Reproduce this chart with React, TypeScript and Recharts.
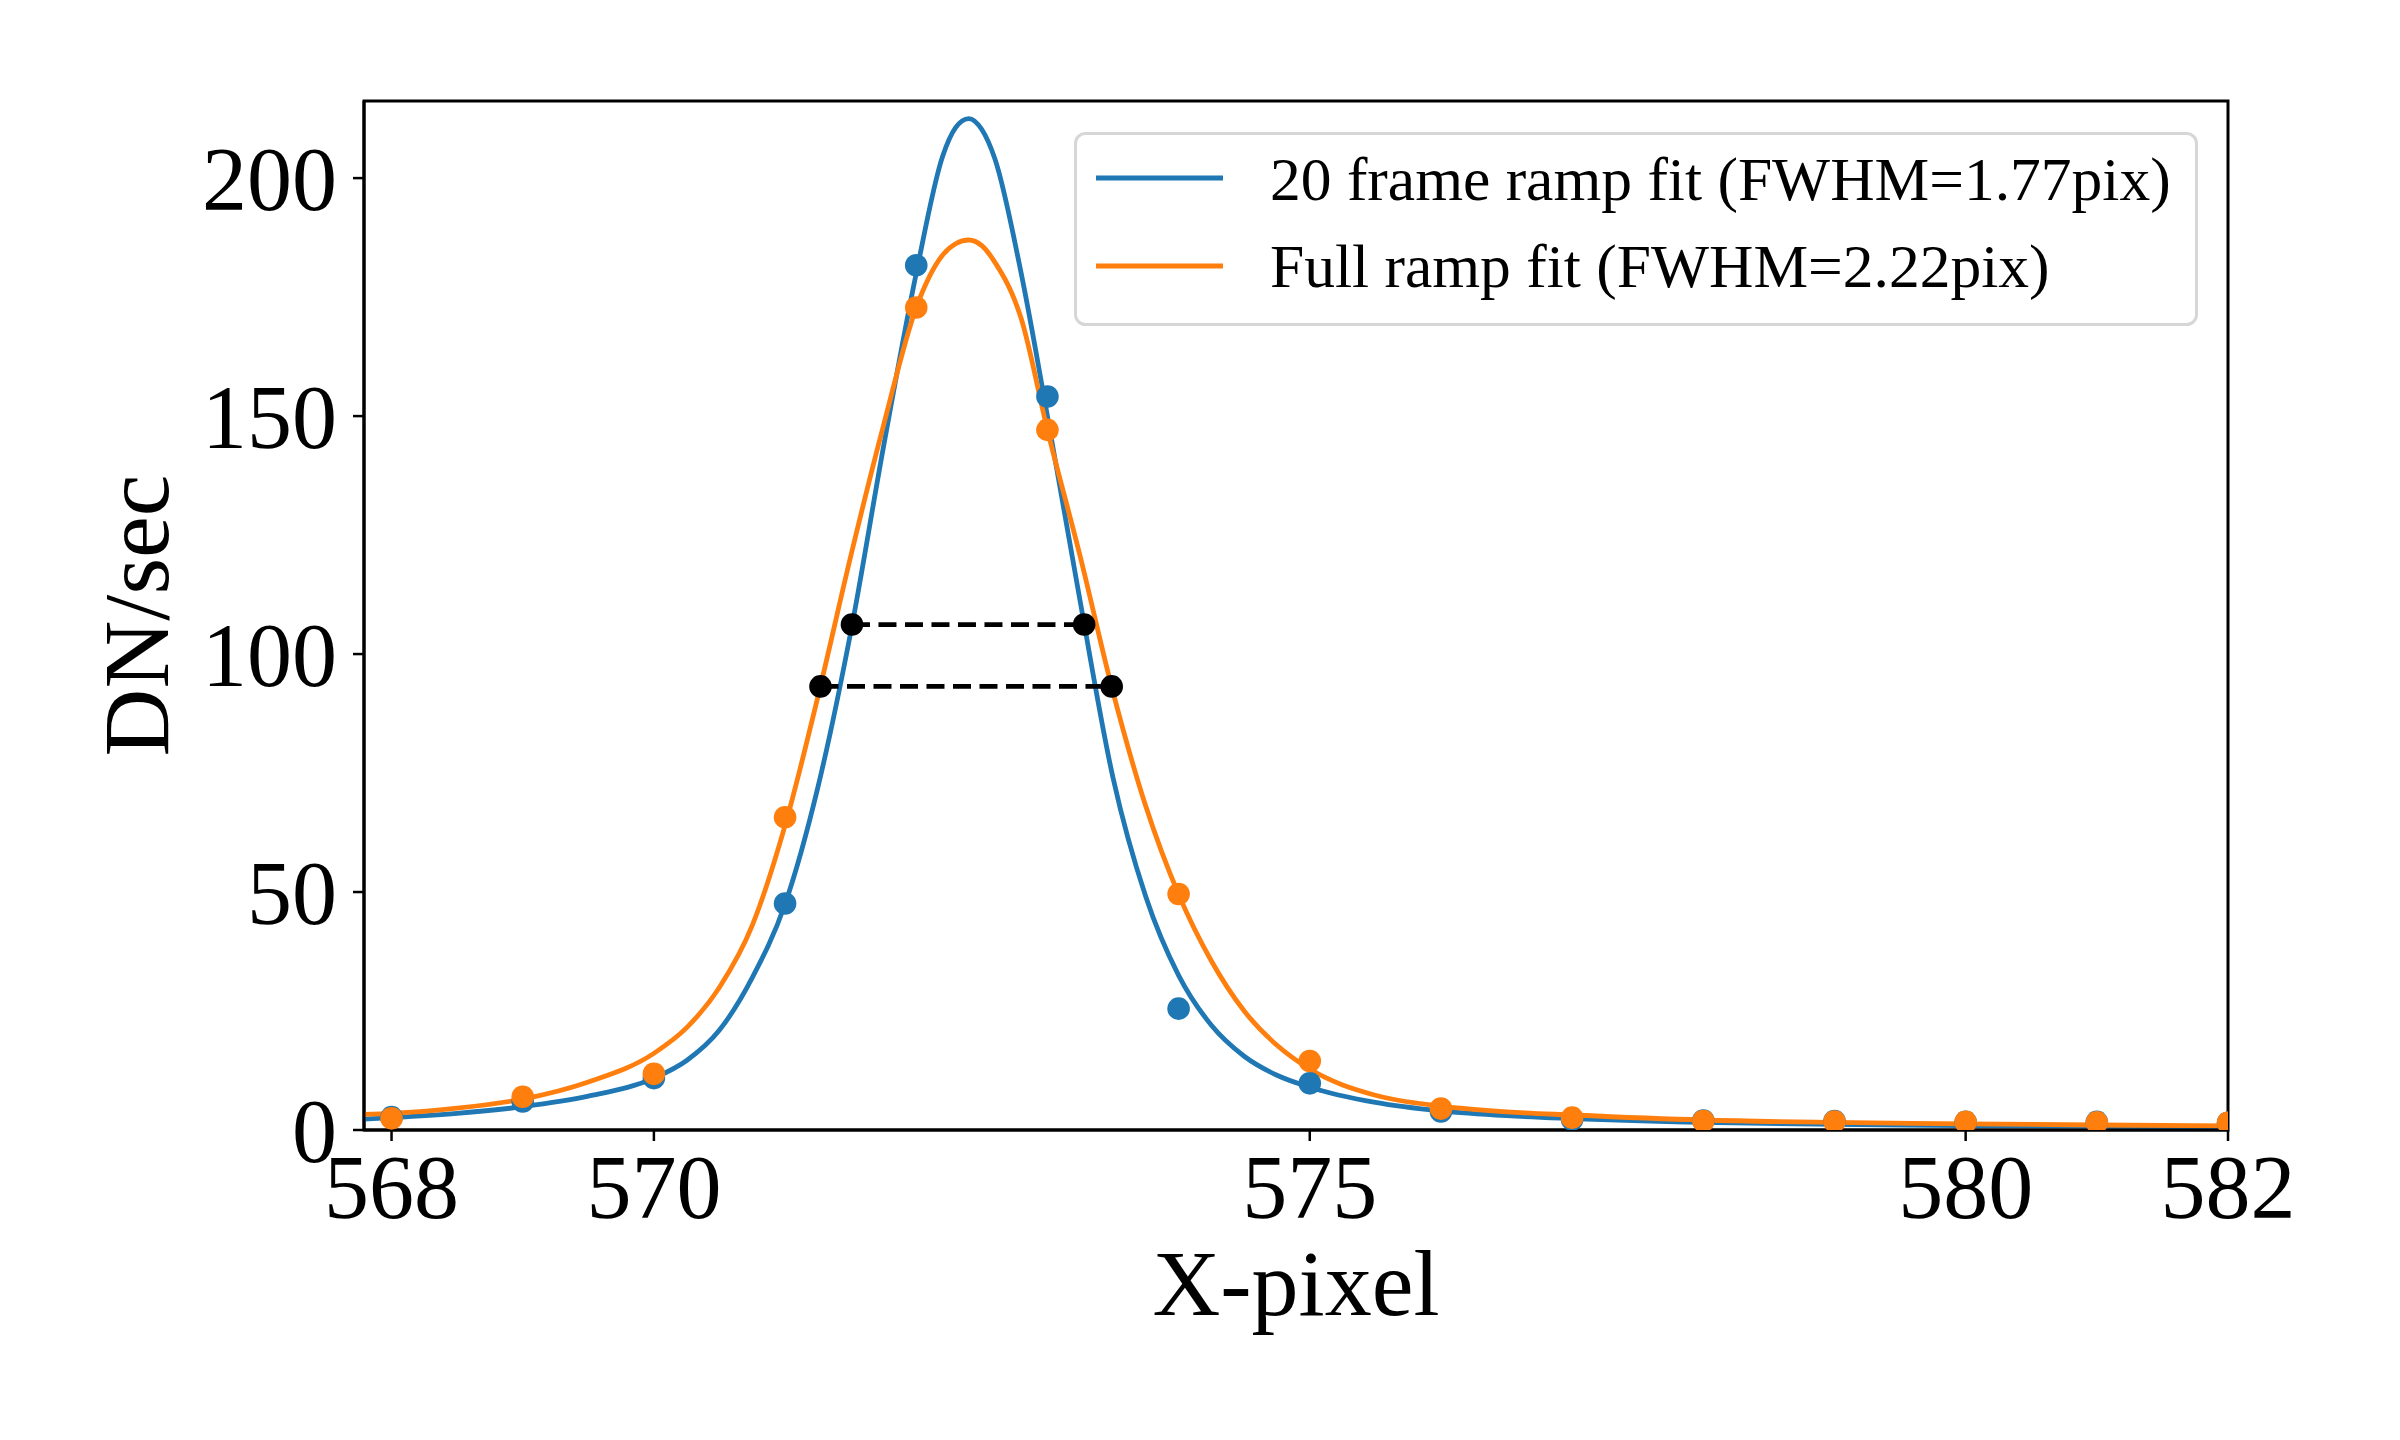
import React from 'react';
import { ComposedChart, Line, Scatter, XAxis, YAxis, Legend, Label, ReferenceArea } from 'recharts';

// ---------- data ----------
const pixelX = [568, 569, 570, 571, 572, 573, 574, 575, 576, 577, 578, 579, 580, 581, 582];
const frame20Points = [2.7, 6.0, 10.9, 47.6, 181.7, 154.1, 25.5, 9.8, 3.9, 2.2, 2.0, 1.9, 1.7, 1.7, 1.5];
const fullRampPoints = [2.45, 7.0, 11.8, 65.7, 172.8, 147.1, 49.6, 14.5, 4.5, 2.6, 1.9, 1.8, 1.7, 1.6, 1.5];

const fitX = [
  567.79, 568, 568.5, 569, 569.5, 570, 570.25, 570.5, 570.75, 571, 571.25, 571.5, 571.75, 572,
  572.2, 572.3, 572.4, 572.5, 572.6, 572.8, 573, 573.25, 573.5, 573.75, 574, 574.25, 574.5, 574.75,
  575, 575.5, 576, 576.5, 577, 578, 579, 580, 581, 582,
];
const frame20Fit = [
  2.3, 2.6, 3.5, 4.9, 7.1, 10.9, 14.6, 21, 32, 47.5, 72, 104.5, 143.5, 180,
  204.5, 210.6, 212.5, 210.2, 204, 180, 150, 111, 74, 49, 32.5, 22, 15.5, 11.5,
  9.0, 5.8, 4.0, 3.0, 2.4, 1.6, 1.2, 0.95, 0.75, 0.6,
];
const fullRampFit = [
  3.3, 3.5, 4.6, 6.5, 10.1, 16.1, 21.5, 30, 43, 64, 91, 120.5, 148, 172.8,
  183.8, 186.2, 187, 185.8, 182.3, 170.5, 147.1, 120.5, 92, 68, 49.5, 35.5, 25, 17.8,
  12.8, 7.3, 5.0, 3.8, 3.15, 2.1, 1.6, 1.3, 1.05, 0.85,
];

const fwhm20 = { left: 571.51, right: 573.28, level: 106.2 };
const fwhmFull = { left: 571.27, right: 573.49, level: 93.2 };

const xTicks = [568, 570, 575, 580, 582];
const yTicks = [0, 50, 100, 150, 200];
const xDomain = [567.79, 582];
const yDomain = [0, 216.2];

const seriesNames = ['20 frame ramp fit (FWHM=1.77pix)', 'Full ramp fit (FWHM=2.22pix)'];
const seriesColors = ['#1f77b4', '#ff7f0e'];
const xLabel = 'X-pixel';
const yLabel = 'DN/sec';

// ---------- derived rows ----------
const toRows = (xs: number[], ys: number[]) => xs.map((x, i) => ({ x, y: ys[i] }));
const frame20PointRows = toRows(pixelX, frame20Points);
const fullRampPointRows = toRows(pixelX, fullRampPoints);
const frame20FitRows = toRows(fitX, frame20Fit);
const fullRampFitRows = toRows(fitX, fullRampFit);
const fwhm20Rows = [
  { x: fwhm20.left, y: fwhm20.level },
  { x: fwhm20.right, y: fwhm20.level },
];
const fwhmFullRows = [
  { x: fwhmFull.left, y: fwhmFull.level },
  { x: fwhmFull.right, y: fwhmFull.level },
];

const FONT = '"Liberation Serif", "Times New Roman", serif';
const LINE_W = 4.8;

const makeDot = (color: string) => (p: any) => {
  if (p == null || p.cx == null || p.cy == null) return <g />;
  return <circle cx={p.cx} cy={p.cy} r={11.3} fill={color} stroke="none" />;
};

const XAxisLabel = (props: any) => {
  const vb = props.viewBox || { x: 0, y: 0, width: 0, height: 0 };
  const cx = vb.x + vb.width / 2;
  return (
    <text x={cx} y={vb.y + 185} textAnchor="middle" fontFamily={FONT} fontSize={94} fill="#000">
      {xLabel}
    </text>
  );
};

const YAxisLabel = (props: any) => {
  const vb = props.viewBox || { x: 0, y: 0, width: 0, height: 0 };
  const cy = vb.y + vb.height / 2;
  const x = 160;
  return (
    <text
      x={x}
      y={cy}
      transform={`rotate(-90, ${x}, ${cy})`}
      textAnchor="middle"
      fontFamily={FONT}
      fontSize={94}
      fill="#000"
    >
      {yLabel}
    </text>
  );
};

const LegendBox = () => (
  <svg width={1124} height={194} style={{ display: 'block' }}>
    <rect x={1.5} y={1.5} width={1121} height={191} rx={10} ry={10} fill="rgba(255,255,255,0.8)" stroke="#d6d6d6" strokeWidth={3} />
    {seriesNames.map((name, i) => (
      <g key={name}>
        <line x1={22} x2={149} y1={46 + i * 88} y2={46 + i * 88} stroke={seriesColors[i]} strokeWidth={LINE_W} />
        <text x={196} y={68 + i * 87} fontFamily={FONT} fontSize={61.5} fill="#000">
          {name}
        </text>
      </g>
    ))}
  </svg>
);

export default function App() {
  return (
    <ComposedChart width={2384} height={1424} margin={{ top: 93, right: 164, bottom: 0, left: 0 }}>
      <XAxis
        dataKey="x"
        type="number"
        domain={xDomain}
        ticks={xTicks}
        interval={0}
        allowDataOverflow
        height={302}
        tickSize={11}
        tickMargin={13}
        tick={{ fontSize: 90, fill: '#000', fontFamily: FONT }}
        axisLine={{ stroke: '#000', strokeWidth: 3 }}
        tickLine={{ stroke: '#000', strokeWidth: 2.5 }}
      >
        <Label content={XAxisLabel} />
      </XAxis>
      <YAxis
        dataKey="y"
        type="number"
        domain={yDomain}
        ticks={yTicks}
        interval={0}
        allowDataOverflow
        width={356}
        tickSize={11}
        tickMargin={16}
        tick={{ fontSize: 90, fill: '#000', fontFamily: FONT }}
        axisLine={{ stroke: '#000', strokeWidth: 3 }}
        tickLine={{ stroke: '#000', strokeWidth: 2.5 }}
      >
        <Label content={YAxisLabel} />
      </YAxis>
      <ReferenceArea
        x1={xDomain[0]}
        x2={xDomain[1]}
        y1={yDomain[0]}
        y2={yDomain[1]}
        fill="none"
        fillOpacity={0}
        stroke="#000"
        strokeWidth={3}
        ifOverflow="visible"
      />
      <Scatter
        data={frame20PointRows}
        dataKey="y"
        fill={seriesColors[0]}
        shape={makeDot(seriesColors[0])}
        isAnimationActive={false}
        legendType="none"
      />
      <Line
        data={frame20FitRows}
        dataKey="y"
        type="monotone"
        stroke={seriesColors[0]}
        strokeWidth={LINE_W}
        dot={false}
        activeDot={false}
        isAnimationActive={false}
        name={seriesNames[0]}
      />
      <Scatter
        data={fullRampPointRows}
        dataKey="y"
        fill={seriesColors[1]}
        shape={makeDot(seriesColors[1])}
        isAnimationActive={false}
        legendType="none"
      />
      <Line
        data={fullRampFitRows}
        dataKey="y"
        type="monotone"
        stroke={seriesColors[1]}
        strokeWidth={LINE_W}
        dot={false}
        activeDot={false}
        isAnimationActive={false}
        name={seriesNames[1]}
      />
      <Line
        data={fwhm20Rows}
        dataKey="y"
        type="linear"
        stroke="#000"
        strokeWidth={4.7}
        strokeDasharray="18 8.5"
        dot={{ r: 11.3, fill: '#000', stroke: 'none' }}
        activeDot={false}
        isAnimationActive={false}
        legendType="none"
      />
      <Line
        data={fwhmFullRows}
        dataKey="y"
        type="linear"
        stroke="#000"
        strokeWidth={4.7}
        strokeDasharray="18 8.5"
        dot={{ r: 11.3, fill: '#000', stroke: 'none' }}
        activeDot={false}
        isAnimationActive={false}
        legendType="none"
      />
      <Legend
        layout="horizontal"
        verticalAlign="middle"
        align="center"
        wrapperStyle={{ left: 1066, top: 124, width: 1124, height: 194 }}
        content={LegendBox}
      />
    </ComposedChart>
  );
}
